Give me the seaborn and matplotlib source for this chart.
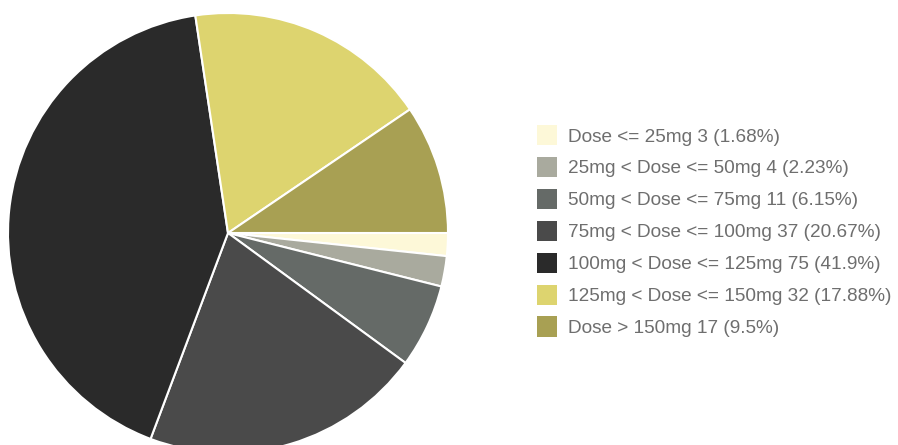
import matplotlib.pyplot as plt
import seaborn as sns
from matplotlib.patches import Patch

# --- data ---
LABELS = [
    "Dose <= 25mg",
    "25mg < Dose <= 50mg",
    "50mg < Dose <= 75mg",
    "75mg < Dose <= 100mg",
    "100mg < Dose <= 125mg",
    "125mg < Dose <= 150mg",
    "Dose > 150mg",
]
COUNTS = [3, 4, 11, 37, 75, 32, 17]
PERCENTS = ["1.68", "2.23", "6.15", "20.67", "41.9", "17.88", "9.5"]
COLORS = ["#fdf8d8", "#a9aa9e", "#656a67", "#4a4a4a", "#2a2a2a", "#ddd46f", "#a8a053"]

sns.set_theme(style="white")
plt.rcParams["font.family"] = ["Liberation Sans", "DejaVu Sans"]

fig = plt.figure(figsize=(8.98, 4.45), dpi=100)
ax = fig.add_axes([8 / 898, -8 / 445, 440 / 898, 440 / 445])

palette = sns.color_palette(COLORS)
wedges, _ = ax.pie(
    COUNTS,
    colors=palette,
    startangle=0,
    counterclock=False,
    radius=1.0,
    wedgeprops={"edgecolor": "white", "linewidth": 1.5},
)
ax.set_xlim(-1.0, 1.0)
ax.set_ylim(-1.0, 1.0)
ax.set_aspect("equal")
ax.axis("off")
for w in wedges:
    w.set_clip_on(False)

handles = [Patch(facecolor=c, edgecolor="none") for c in palette]
labels = [f"{l} {n} ({p}%)" for l, n, p in zip(LABELS, COUNTS, PERCENTS)]
leg = fig.legend(
    handles,
    labels,
    loc="center left",
    bbox_to_anchor=(537 / 898, 1 - 231 / 445),
    frameon=False,
    fontsize=13.7,
    borderpad=0,
    borderaxespad=0,
    handlelength=1.05,
    handleheight=1.25,
    handletextpad=0.58,
    labelspacing=0.6,
)
for t in leg.get_texts():
    t.set_color("#6e6e6e")

fig.savefig("out.png", dpi=100)
